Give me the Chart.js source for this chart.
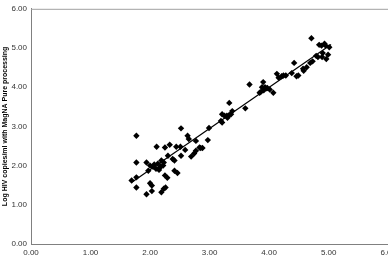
<!DOCTYPE html>
<html>
<head>
<meta charset="utf-8">
<script src="https://cdn.jsdelivr.net/npm/chart.js@4"></script>
<style>
  html, body { margin: 0; padding: 0; background: #fff; overflow: hidden; }
  #wrap { width: 388px; height: 260px; overflow: hidden; }
</style>
</head>
<body>
<div id="wrap"><canvas id="chart" width="400" height="260"></canvas></div>
<script>
// log HIV copies/ml, standard processing (x) vs MagNA Pure processing (y)
const xValues = [
  1.77, 1.69, 1.77, 1.77, 1.77, 1.94, 1.97, 2.00, 2.05, 2.10, 2.16, 2.15, 2.22, 2.19, 2.23,
  2.30, 2.38, 2.41, 2.11, 2.25, 2.33, 2.44, 2.41, 2.46, 2.25, 2.29, 2.00, 2.03, 2.03, 1.94,
  2.23, 2.19, 2.26, 2.07, 2.13, 2.18,
  2.52, 2.63, 2.65, 2.77, 2.97, 2.51, 2.59, 2.83, 2.77, 2.74, 2.69, 2.52, 2.85, 2.88, 2.99,
  3.21, 3.21, 3.19, 3.25, 3.29, 3.33, 3.36, 3.30, 3.33, 3.38, 3.60, 3.67,
  3.84, 3.86, 3.91, 3.93, 3.95, 3.97, 4.01, 3.90, 3.88, 4.07, 4.13, 4.16, 4.21, 4.24, 4.28,
  4.38, 4.42, 4.46, 4.57,
  4.71, 4.84, 4.88, 4.93, 4.95, 5.01, 4.79, 4.82, 4.89, 4.96, 4.99, 4.90, 4.69, 4.73, 4.63,
  4.58, 4.49
];
const yValues = [
  2.76, 1.62, 1.70, 1.44, 2.08, 2.08, 1.87, 2.00, 1.97, 1.92, 1.94, 1.89, 2.00, 2.13, 2.08,
  2.25, 2.17, 2.13, 2.48, 2.46, 2.53, 2.48, 1.87, 1.81, 1.75, 1.69, 1.55, 1.49, 1.35, 1.27,
  1.41, 1.32, 1.44, 2.03, 2.05, 1.98,
  2.95, 2.76, 2.68, 2.63, 2.65, 2.48, 2.40, 2.46, 2.38, 2.31, 2.23, 2.25, 2.45, 2.45, 2.96,
  3.31, 3.10, 3.14, 3.27, 3.27, 3.29, 3.31, 3.22, 3.60, 3.39, 3.46, 4.07,
  3.86, 3.88, 3.92, 4.00, 3.97, 3.98, 3.94, 4.13, 4.00, 3.86, 4.34, 4.24, 4.28, 4.30, 4.30,
  4.36, 4.62, 4.28, 4.47,
  5.25, 5.08, 5.06, 5.11, 5.06, 5.02, 4.80, 4.77, 4.77, 4.72, 4.83, 4.87, 4.62, 4.66, 4.51,
  4.42, 4.30
];
// regression line end points
const fitX = [1.70, 5.04];
const fitY = [1.58, 5.09];
const tickValues = [0, 1, 2, 3, 4, 5, 6];
const yTitle = 'Log HIV copies/ml with MagNA Pure processing';

const fontFamily = 'Arial, "Liberation Sans", sans-serif';

const frame = {
  id: 'frame',
  afterDraw(chart) {
    const { ctx, chartArea } = chart;
    ctx.save();
    ctx.strokeStyle = '#a0a0a0';
    ctx.lineWidth = 1;
    ctx.beginPath();
    ctx.moveTo(chartArea.left, chartArea.top + 0.5);
    ctx.lineTo(chartArea.right, chartArea.top + 0.5);
    ctx.stroke();
    ctx.restore();
  }
};

new Chart(document.getElementById('chart'), {
  type: 'scatter',
  data: {
    datasets: [{
      data: xValues.map((x, i) => ({ x, y: yValues[i] })),
      pointStyle: 'rectRot',
      radius: 3.2,
      backgroundColor: '#000',
      borderColor: '#000',
      borderWidth: 0
    }, {
      type: 'line',
      data: fitX.map((x, i) => ({ x, y: fitY[i] })),
      borderColor: '#000',
      borderWidth: 1.2,
      pointRadius: 0,
      fill: false
    }]
  },
  options: {
    responsive: false,
    animation: false,
    devicePixelRatio: 1,
    layout: { padding: { top: 7, right: 8, left: 0, bottom: 0 } },
    plugins: { legend: { display: false }, tooltip: { enabled: false } },
    scales: {
      x: {
        type: 'linear',
        min: 0,
        max: 6,
        afterBuildTicks: s => { s.ticks = tickValues.map(v => ({ value: v })); },
        ticks: {
          callback: v => v.toFixed(2),
          font: { family: fontFamily, size: 8 },
          color: '#333',
          padding: 4,
          maxRotation: 0
        },
        grid: { display: false, drawTicks: false },
        border: { color: '#808080', width: 1 },
        afterFit: s => { s.height = 16; }
      },
      y: {
        min: 0,
        max: 6,
        afterBuildTicks: s => { s.ticks = tickValues.map(v => ({ value: v })); },
        ticks: {
          callback: v => v.toFixed(2),
          font: { family: fontFamily, size: 8 },
          color: '#333',
          padding: 4
        },
        grid: { display: false, drawTicks: false },
        border: { color: '#808080', width: 1 },
        title: {
          display: true,
          text: yTitle,
          font: { family: fontFamily, size: 7, weight: 'bold' },
          color: '#000',
          padding: { top: 1, bottom: 0 }
        },
        afterFit: s => { s.width = 31; }
      }
    }
  },
  plugins: [frame]
});
</script>
</body>
</html>
